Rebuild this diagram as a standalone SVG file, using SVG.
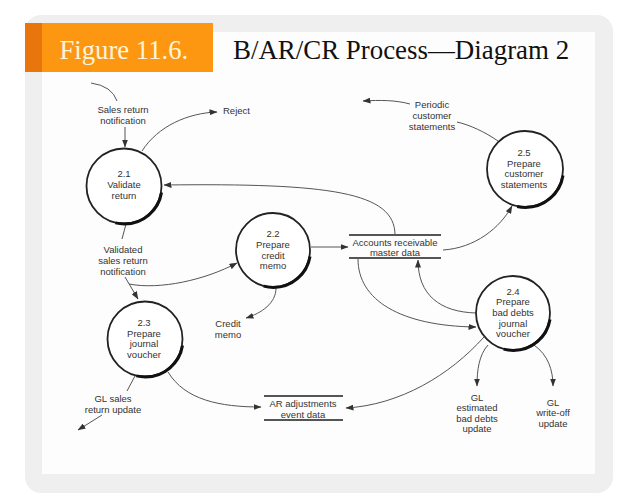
<svg xmlns="http://www.w3.org/2000/svg" width="638" height="504" viewBox="0 0 638 504">
<defs>
<style>
.lbl{font-family:"Liberation Sans",Arial,sans-serif;font-size:9.5px;fill:#333;text-anchor:middle}
.bub{fill:#fff;stroke:#222;stroke-width:1.8}
.shade{fill:none;stroke:#111;stroke-width:3;stroke-dasharray:62 400;stroke-dashoffset:-6}
.con{fill:none;stroke:#555;stroke-width:1}
.arr{marker-end:url(#ah)}
.store{stroke:#555;stroke-width:2}
</style>
<marker id="ah" viewBox="0 0 8 6" refX="7.5" refY="3" markerWidth="8" markerHeight="6" markerUnits="userSpaceOnUse" orient="auto">
<path d="M0,0 L8,3 L0,6 z" fill="#333"/>
</marker>
</defs>
<rect x="0" y="0" width="638" height="504" fill="#fff"/>
<rect x="25" y="15" width="588" height="478" rx="16" fill="#efefef"/>
<rect x="42" y="32" width="553" height="442" fill="#fdfdfd"/>
<g id="header">
<rect x="25" y="23" width="188" height="49" fill="#fd9712"/>
<rect x="25" y="23" width="17" height="49" fill="#e9760c"/>
<text x="59.5" y="58.5" font-family="Liberation Serif,'Times New Roman',serif" font-size="26.7" fill="#fff4dc">Figure 11.6.</text>
<text x="233" y="58.5" font-family="Liberation Serif,'Times New Roman',serif" font-size="26.9" fill="#111">B/AR/CR Process—Diagram 2</text>
</g>
<g id="connectors">
<path class="con" d="M91,83 Q112,86 117,101"/>
<path class="con arr" d="M125,127 L125,147"/>
<path class="con arr" d="M142,151 C158,126 188,113 217,112"/>
<path class="con arr" d="M395,235 C395,192 330,183 164,185"/>
<path class="con" d="M126,224 L122,239"/>
<path class="con arr" d="M129,284 C160,290 205,280 237,263"/>
<path class="con arr" d="M125,277 L138,299"/>
<path class="con arr" d="M311,247 L348,247"/>
<path class="con arr" d="M276,288 C276,303 262,313 246,318"/>
<path class="con arr" d="M443,250 C475,248 500,228 512,206"/>
<path class="con" d="M498,141 C485,132 470,125 457,122"/>
<path class="con arr" d="M410,104 C395,100 380,100 363,101"/>
<path class="con arr" d="M358,259 C358,300 400,326 476,327"/>
<path class="con arr" d="M476,313 C440,312 418,295 418,260"/>
<path class="con arr" d="M484,337 C450,375 400,405 346,408"/>
<path class="con arr" d="M488,345 C479,355 477,370 477,386"/>
<path class="con arr" d="M534,345 C548,355 553,370 553,386"/>
<path class="con arr" d="M168,372 C185,400 220,407 261,407"/>
<path class="con" d="M135,376 L127,391"/>
<path class="con arr" d="M102,415 L78,430"/>
</g>
<g id="p21">
<circle class="bub" cx="124" cy="186" r="37.5"/>
<circle class="shade" cx="124.5" cy="186.5" r="37.5"/>
<text class="lbl" x="124" y="176.5">2.1</text>
<text class="lbl" x="124" y="187.5">Validate</text>
<text class="lbl" x="124" y="198.5">return</text>
</g>
<g id="p22">
<circle class="bub" cx="273" cy="250" r="37"/>
<circle class="shade" cx="273.5" cy="250.5" r="37"/>
<text class="lbl" x="273" y="236.5">2.2</text>
<text class="lbl" x="273" y="247.5">Prepare</text>
<text class="lbl" x="273" y="258.5">credit</text>
<text class="lbl" x="273" y="268.5">memo</text>
</g>
<g id="p23">
<circle class="bub" cx="145" cy="339" r="37.5"/>
<circle class="shade" cx="145.5" cy="339.5" r="37.5"/>
<text class="lbl" x="144" y="325.5">2.3</text>
<text class="lbl" x="144" y="336.5">Prepare</text>
<text class="lbl" x="144" y="346.5">journal</text>
<text class="lbl" x="144" y="357.5">voucher</text>
</g>
<g id="p24">
<circle class="bub" cx="513" cy="313" r="37"/>
<circle class="shade" cx="513.5" cy="313.5" r="37"/>
<text class="lbl" x="513" y="294.5">2.4</text>
<text class="lbl" x="513" y="304.5">Prepare</text>
<text class="lbl" x="513" y="315.5">bad debts</text>
<text class="lbl" x="513" y="326.5">journal</text>
<text class="lbl" x="513" y="336.5">voucher</text>
</g>
<g id="p25">
<circle class="bub" cx="525" cy="169" r="38"/>
<circle class="shade" cx="525.5" cy="169.5" r="38"/>
<text class="lbl" x="524" y="155.5">2.5</text>
<text class="lbl" x="524" y="166.5">Prepare</text>
<text class="lbl" x="524" y="176.5">customer</text>
<text class="lbl" x="524" y="187.5">statements</text>
</g>
<g id="ds-ar-master">
<line class="store" x1="349" y1="235" x2="441" y2="235"/>
<line class="store" x1="349" y1="258" x2="441" y2="258"/>
<text class="lbl" x="395" y="246">Accounts receivable</text>
<text class="lbl" x="395" y="256">master data</text>
</g>
<g id="ds-ar-adj">
<line class="store" x1="264" y1="396" x2="343" y2="396"/>
<line class="store" x1="264" y1="420" x2="343" y2="420"/>
<text class="lbl" x="303" y="406.5">AR adjustments</text>
<text class="lbl" x="303" y="417.5">event data</text>
</g>
<g id="labels">
<text class="lbl" x="123" y="113">Sales return</text>
<text class="lbl" x="123" y="124">notification</text>
<text class="lbl" x="223" y="114" style="text-anchor:start">Reject</text>
<text class="lbl" x="123" y="252.5">Validated</text>
<text class="lbl" x="123" y="263.5">sales return</text>
<text class="lbl" x="123" y="274.5">notification</text>
<text class="lbl" x="228" y="326.5">Credit</text>
<text class="lbl" x="228" y="337.5">memo</text>
<text class="lbl" x="432" y="107.5">Periodic</text>
<text class="lbl" x="432" y="118.5">customer</text>
<text class="lbl" x="432" y="129.5">statements</text>
<text class="lbl" x="113" y="401.5">GL sales</text>
<text class="lbl" x="113" y="412.5">return update</text>
<text class="lbl" x="477" y="400.5">GL</text>
<text class="lbl" x="477" y="411">estimated</text>
<text class="lbl" x="477" y="421.5">bad debts</text>
<text class="lbl" x="477" y="432">update</text>
<text class="lbl" x="553" y="405.5">GL</text>
<text class="lbl" x="553" y="415.5">write-off</text>
<text class="lbl" x="553" y="426.5">update</text>
</g>
</svg>
